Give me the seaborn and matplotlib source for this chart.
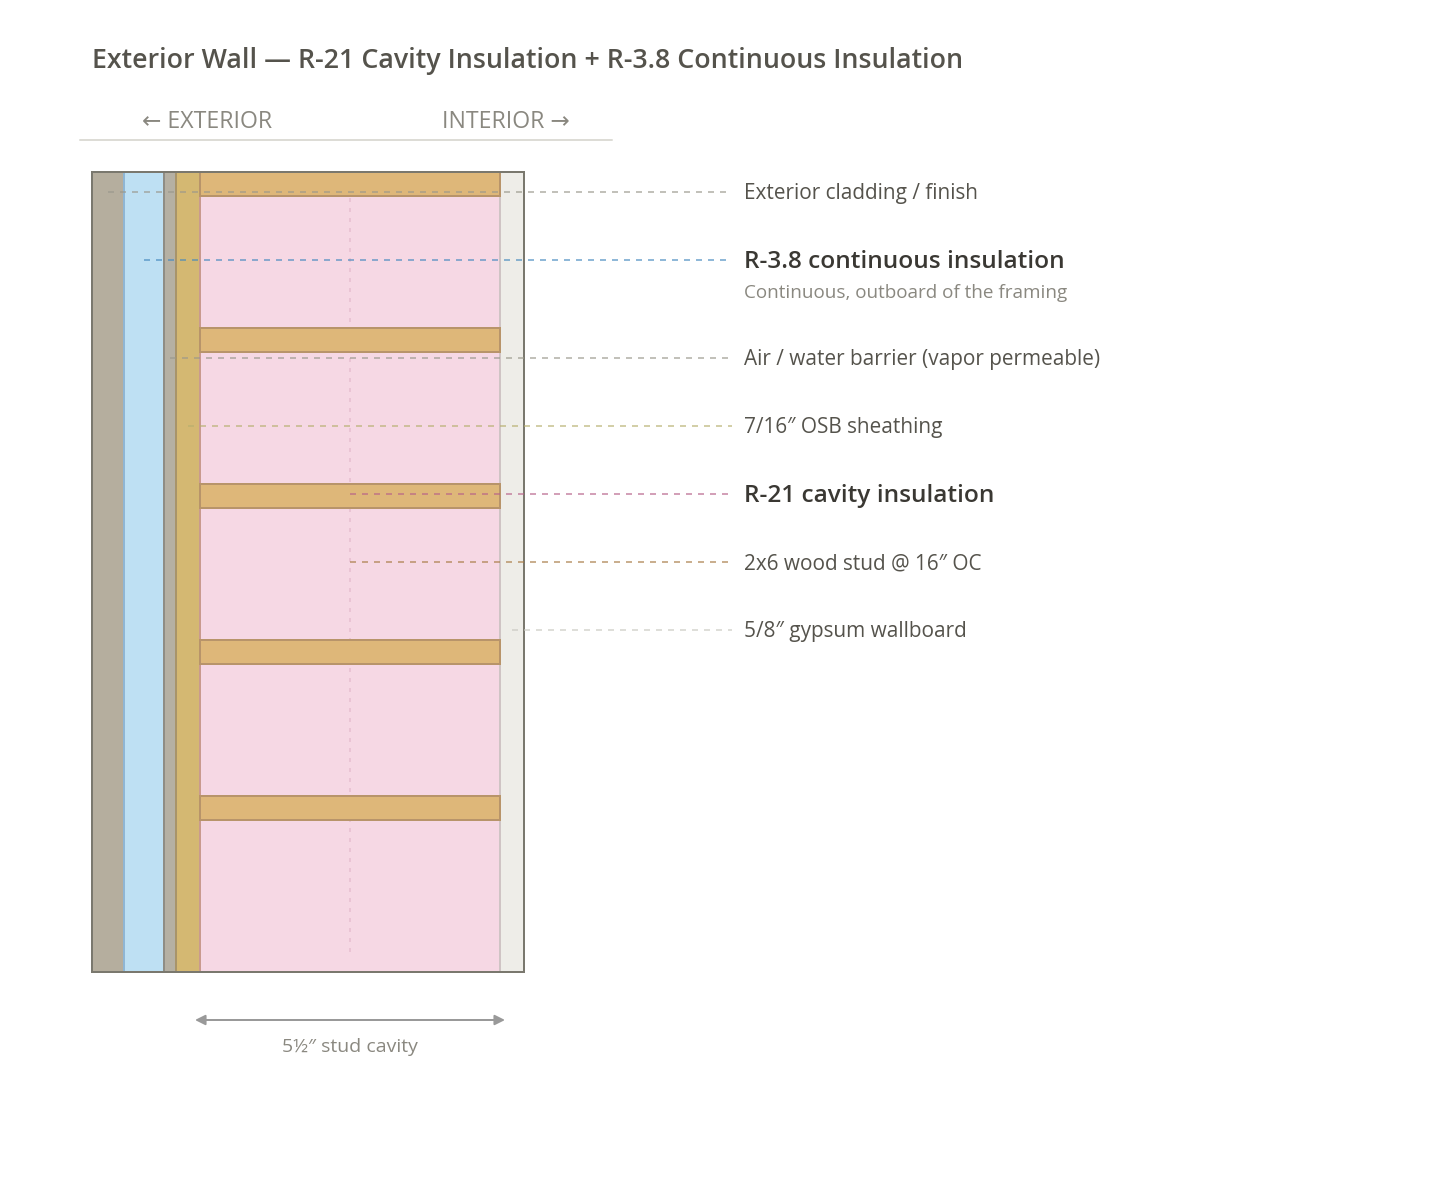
import matplotlib
matplotlib.use('Agg')
import matplotlib.pyplot as plt
import numpy as np
import pandas as pd
import seaborn as sns

# wall layers, exterior to interior (thickness in drawing units)
layer_names = ['cladding', 'continuous', 'barrier', 'osb', 'cavity', 'gypsum']
layer_widths = [32, 40, 12, 24, 300, 24]
layer_colors = ['#b5ae9e', '#bee0f3', '#b5b0a3', '#d4b872', '#f6d8e4', '#eeede8']
edge_colors = ['#8fb6d4', '#8f8d85', '#a8946a', '#c99a8e', '#cfc4c4']

stud_starts = [172, 328, 484, 640, 796]
stud_height = 24

# callouts
callout_labels = ['Exterior cladding / finish', 'R-3.8 continuous insulation',
                  'Air / water barrier (vapor permeable)', '7/16\u2033 OSB sheathing',
                  'R-21 cavity insulation', '2x6 wood stud @ 16\u2033 OC',
                  '5/8\u2033 gypsum wallboard']
callout_y = [192, 260, 358, 426, 494, 562, 630]
callout_x0 = [108, 144, 170, 188, 350, 350, 512]
callout_x1 = [726, 726, 728, 732, 728, 728, 732]
callout_colors = ['#9a988c', '#4489be', '#9a988c', '#b6af6e', '#b76189', '#a87b44', '#c8c8c1']
callout_bold = [False, True, False, False, True, False, False]

sns.set_theme(style='white')
plt.rcParams['font.family'] = ['Open Sans', 'DejaVu Sans']
plt.rcParams['lines.scale_dashes'] = False

fig, ax = plt.subplots(figsize=(14.4, 11.96), dpi=100)
ax.set_position([0, 0, 1, 1])
ax.set_xlim(0, 1440)
ax.set_ylim(1196, 0)
ax.axis('off')

px = 0.72  # one pixel in points

# layers
wall_left, wall_top, wall_bottom = 92, 172, 972
lefts = wall_left + np.concatenate([[0], np.cumsum(layer_widths)[:-1]])
ax.barh((wall_top + wall_bottom) / 2, layer_widths, left=lefts, height=wall_bottom - wall_top,
        color=layer_colors, linewidth=0, zorder=1)
for x, c in zip(lefts[1:], edge_colors):
    ax.plot([x, x], [wall_top, wall_bottom], color=c, lw=2 * px, zorder=1.5)

# dashed centre line of the cavity, hidden behind the studs
cav_mid = lefts[4] + layer_widths[4] / 2
ax.plot([cav_mid, cav_mid], [188, 952], color='#eac4d4', lw=2 * px,
        linestyle=(0, (4 * px, 6 * px)), dash_capstyle='butt', zorder=1.7)

# studs
ax.barh(np.array(stud_starts) + stud_height / 2, layer_widths[4], left=lefts[4], height=stud_height,
        color='#deb779', edgecolor='#b8946a', linewidth=2 * px, zorder=2)

# frame
wall_w = sum(layer_widths)
ax.add_patch(plt.Rectangle((wall_left, wall_top), wall_w, wall_bottom - wall_top, fill=False,
                           edgecolor='#7a786e', linewidth=2 * px, zorder=3))

# leader lines
for i in range(len(callout_labels)):
    df = pd.DataFrame({'x': [callout_x0[i], callout_x1[i]], 'y': [callout_y[i]] * 2})
    sns.lineplot(data=df, x='x', y='y', ax=ax, color=callout_colors[i], lw=2 * px, alpha=0.6,
                 linestyle=(0, (6 * px, 6 * px)), dash_capstyle='butt', zorder=4,
                 estimator=None, sort=False)
ax.set_xlabel('')
ax.set_ylabel('')

# labels
for y, lab, b in zip(callout_y, callout_labels, callout_bold):
    if b:
        ax.text(744, y - 1, lab, fontsize=26 * px * 0.94, fontweight=600, color='#3a3833', va='center_baseline')
    else:
        ax.text(744, y - 0.5, lab, fontsize=22 * px * 0.945, color='#55534c', va='center_baseline')
ax.text(744, 291, 'Continuous, outboard of the framing', fontsize=20 * px * 0.945, color='#8a8880',
        va='center_baseline')

# heading and direction markers
ax.text(92, 57.5, 'Exterior Wall \u2014 R-21 Cavity Insulation + R-3.8 Continuous Insulation',
        fontsize=28 * px * 0.955, fontweight=600, color='#55534c', va='center_baseline')
ax.text(207, 119, '\u2190 EXTERIOR', fontsize=24 * px * 0.965, color='#8a8880', ha='center', va='center_baseline')
ax.text(506, 119, 'INTERIOR \u2192', fontsize=24 * px * 0.965, color='#8a8880', ha='center', va='center_baseline')
ax.plot([80, 612], [140, 140], color='#dddcd6', lw=2 * px)

# cavity dimension
ax.annotate('', xy=(195, 1020), xytext=(505, 1020),
            arrowprops=dict(arrowstyle='<|-|>,head_length=0.5,head_width=0.25', color='#999999',
                            lw=2 * px, shrinkA=0, shrinkB=0))
ax.text(350, 1045, '5\u00bd\u2033 stud cavity', fontsize=20 * px * 0.975, color='#8a8880', ha='center',
        va='center_baseline')

fig.savefig('out.png', dpi=100)
